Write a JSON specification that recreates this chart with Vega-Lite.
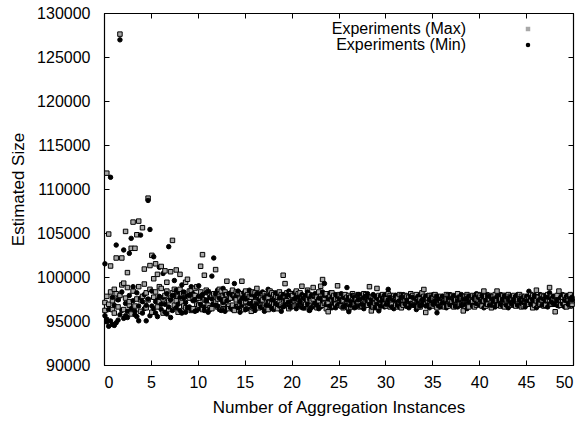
{
  "$schema": "https://vega.github.io/schema/vega-lite/v6.json",
  "width": 469,
  "height": 352,
  "autosize": {"type": "none"},
  "padding": {"left": 104, "top": 13, "right": 9, "bottom": 56},
  "data": {
    "values": [
      {"x":0.1,"a":97100,"c":96200,"b":101500,"d":95600},{"x":0.3,"a":111800,"c":97800,"b":95200,"d":94900},{"x":0.5,"a":104880,"c":96900,"b":94400,"d":96300},{"x":0.7,"a":101250,"c":98300,"b":111330,"d":95000},{"x":0.9,"a":96300,"c":97300,"b":94600,"d":97700},
      {"x":1.1,"a":98600,"c":95900,"b":94500,"d":96800},{"x":1.3,"a":102160,"c":98100,"b":103630,"d":94800},{"x":1.5,"a":97500,"c":96600,"b":95100,"d":97400},{"x":1.7,"a":127600,"c":97900,"b":126950,"d":95700},{"x":1.9,"a":102160,"c":99100,"b":96200,"d":98300},
      {"x":2.1,"a":99300,"c":96300,"b":103070,"d":95300},{"x":2.3,"a":105180,"c":97600,"b":95600,"d":97000},{"x":2.5,"a":100500,"c":98800,"b":95400,"d":96100},{"x":2.7,"a":96800,"c":97200,"b":102690,"d":97900},{"x":2.9,"a":103260,"c":95800,"b":104390,"d":96400},
      {"x":3.1,"a":106240,"c":98400,"b":98900,"d":97300},{"x":3.3,"a":103260,"c":96700,"b":96100,"d":95700},{"x":3.5,"a":104800,"c":97500,"b":95500,"d":98200},{"x":3.7,"a":106350,"c":98900,"b":95020,"d":96700},{"x":3.9,"a":97400,"c":96100,"b":104760,"d":97600},
      {"x":4.1,"a":105600,"c":97800,"b":97200,"d":95900},{"x":4.3,"a":100900,"c":99200,"b":96400,"d":98000},{"x":4.5,"a":98200,"c":96500,"b":95020,"d":96800},{"x":4.7,"a":108960,"c":97400,"b":108700,"d":97500},{"x":4.9,"a":101300,"c":98600,"b":105400,"d":95600},
      {"x":5.1,"a":102460,"c":96000,"b":96700,"d":98400},{"x":5.3,"a":99800,"c":97700,"b":102300,"d":96400},{"x":5.5,"a":101500,"c":98300,"b":95900,"d":97200},{"x":5.7,"a":100300,"c":96600,"b":97400,"d":95500},{"x":5.9,"a":98900,"c":97200,"b":101100,"d":97800},
      {"x":6.1,"a":101200,"c":98700,"b":96300,"d":96900},{"x":6.3,"a":97500,"c":95900,"b":100400,"d":97700},{"x":6.5,"a":100700,"c":97900,"b":96900,"d":96000},{"x":6.7,"a":99400,"c":98400,"b":95800,"d":98100},{"x":6.9,"a":97300,"c":96300,"b":103450,"d":96600},
      {"x":7.1,"a":100600,"c":97600,"b":95400,"d":97400},{"x":7.3,"a":104160,"c":98200,"b":97900,"d":96200},{"x":7.5,"a":98600,"c":96800,"b":99600,"d":97900},{"x":7.7,"a":100800,"c":97300,"b":96500,"d":98500},{"x":7.9,"a":97800,"c":96000,"b":98300,"d":96900},
      {"x":8.1,"a":100300,"c":98600,"b":96200,"d":97700},{"x":8.3,"a":98100,"c":97100,"b":99100,"d":95900},{"x":8.5,"a":96700,"c":98200,"b":97600,"d":98300},{"x":8.7,"a":99400,"c":96500,"b":96000,"d":97100},{"x":8.9,"a":99740,"c":97800,"b":97800,"d":96500},
      {"x":9.1,"a":97600,"c":98400,"b":96600,"d":97900},{"x":9.3,"a":98500,"c":96200,"b":98900,"d":96300},{"x":9.5,"a":96400,"c":97500,"b":97300,"d":98100},{"x":9.7,"a":97900,"c":98700,"b":96100,"d":97400},{"x":9.9,"a":98900,"c":96900,"b":97500,"d":96200},
      {"x":10.1,"a":96800,"c":97600,"b":99000,"d":97800},{"x":10.3,"a":101220,"c":98300,"b":96400,"d":96900},{"x":10.5,"a":102540,"c":96300,"b":97600,"d":98000},{"x":10.7,"a":100200,"c":97400,"b":96200,"d":96600},{"x":10.9,"a":97300,"c":98500,"b":98200,"d":97300},
      {"x":11.1,"a":98300,"c":96800,"b":96000,"d":98300},{"x":11.3,"a":96500,"c":97900,"b":97700,"d":96300},{"x":11.5,"a":97800,"c":96400,"b":100100,"d":97500},{"x":11.7,"a":96900,"c":98100,"b":102160,"d":96900},{"x":11.9,"a":100840,"c":97200,"b":96800,"d":98100},
      {"x":12.1,"a":97500,"c":96600,"b":98500,"d":96700},{"x":12.3,"a":98600,"c":97800,"b":96300,"d":97600},{"x":12.5,"a":96300,"c":98400,"b":97400,"d":96200},{"x":12.7,"a":97900,"c":96900,"b":98700,"d":97100},{"x":12.9,"a":98300,"c":97400,"b":96100,"d":98000},
      {"x":13.1,"a":99520,"c":98000,"b":97300,"d":96500},{"x":13.3,"a":96700,"c":96400,"b":98100,"d":97400},{"x":13.5,"a":97700,"c":97600,"b":96500,"d":98200},{"x":13.7,"a":98500,"c":96800,"b":97900,"d":96300},{"x":13.9,"a":96200,"c":97900,"b":99250,"d":97600},
      {"x":14.1,"a":97400,"c":98300,"b":96700,"d":97900},{"x":14.3,"a":98200,"c":96600,"b":98400,"d":96500},{"x":14.5,"a":96900,"c":97500,"b":96000,"d":97200},{"x":14.7,"a":99520,"c":98100,"b":97500,"d":96800},{"x":14.9,"a":97100,"c":96300,"b":98200,"d":97700},
      {"x":15.1,"a":98400,"c":97200,"b":96300,"d":97500},{"x":15.3,"a":96600,"c":98000,"b":97600,"d":96400},{"x":15.5,"a":97800,"c":96800,"b":98500,"d":97000},{"x":15.7,"a":96100,"c":97700,"b":96900,"d":98000},{"x":15.9,"a":98300,"c":96500,"b":97200,"d":96600},
      {"x":16.1,"a":97200,"c":98200,"b":96200,"d":97800},{"x":16.3,"a":98700,"c":97000,"b":98100,"d":96900},{"x":16.5,"a":96500,"c":97900,"b":97500,"d":98100},{"x":16.7,"a":97600,"c":96700,"b":96600,"d":97300},{"x":16.9,"a":98100,"c":97400,"b":98300,"d":96500},
      {"x":17.1,"a":96800,"c":98100,"b":96100,"d":97600},{"x":17.3,"a":97900,"c":96600,"b":97800,"d":96800},{"x":17.5,"a":96300,"c":97600,"b":98600,"d":97200},{"x":17.7,"a":98400,"c":97100,"b":96800,"d":98000},{"x":17.9,"a":97100,"c":98200,"b":97400,"d":96400},
      {"x":18.1,"a":98000,"c":96900,"b":96300,"d":97500},{"x":18.3,"a":96600,"c":97800,"b":98200,"d":97000},{"x":18.5,"a":97700,"c":96400,"b":96900,"d":98100},{"x":18.7,"a":98300,"c":97300,"b":97600,"d":96700},{"x":18.9,"a":96900,"c":98000,"b":96100,"d":97700},
      {"x":19.1,"a":100200,"c":96700,"b":98000,"d":96600},{"x":19.3,"a":99250,"c":97600,"b":96800,"d":97400},{"x":19.5,"a":97300,"c":98200,"b":97900,"d":96900},{"x":19.7,"a":96400,"c":97100,"b":98400,"d":97100},{"x":19.9,"a":98100,"c":96600,"b":96600,"d":97900},
      {"x":20.1,"a":97500,"c":97900,"b":97300,"d":96700},{"x":20.3,"a":96700,"c":97300,"b":98200,"d":97500},{"x":20.5,"a":98400,"c":96800,"b":96400,"d":97800},{"x":20.7,"a":97000,"c":98100,"b":97700,"d":96800},{"x":20.9,"a":98200,"c":97000,"b":96900,"d":97300},
      {"x":21.1,"a":98950,"c":96600,"b":98000,"d":96600},{"x":21.3,"a":96500,"c":97700,"b":96500,"d":97600},{"x":21.5,"a":97800,"c":96900,"b":97400,"d":97900},{"x":21.7,"a":98500,"c":97400,"b":98300,"d":96900},{"x":21.9,"a":96300,"c":98000,"b":96200,"d":97500},
      {"x":22.1,"a":97300,"c":96700,"b":97900,"d":96500},{"x":22.3,"a":98800,"c":97500,"b":96700,"d":97800},{"x":22.5,"a":96900,"c":98000,"b":98100,"d":97000},{"x":22.7,"a":97700,"c":96500,"b":97100,"d":96800},{"x":22.9,"a":98300,"c":97300,"b":96400,"d":97600},
      {"x":23.1,"a":98950,"c":97800,"b":97600,"d":96600},{"x":23.3,"a":99710,"c":96800,"b":98300,"d":97300},{"x":23.5,"a":97000,"c":97600,"b":99260,"d":97900},{"x":23.7,"a":96400,"c":98100,"b":96900,"d":96900},{"x":23.9,"a":96060,"c":97100,"b":97700,"d":97500},
      {"x":24.1,"a":97900,"c":96600,"b":98200,"d":96700},{"x":24.3,"a":98200,"c":97400,"b":96500,"d":97700},{"x":24.5,"a":96700,"c":97900,"b":97300,"d":97000},{"x":24.7,"a":97500,"c":96900,"b":98000,"d":96500},{"x":24.9,"a":99000,"c":97600,"b":96800,"d":97800},
      {"x":25.1,"a":96800,"c":98000,"b":97500,"d":96900},{"x":25.3,"a":97900,"c":96700,"b":98100,"d":97200},{"x":25.5,"a":96500,"c":97300,"b":96600,"d":97700},{"x":25.7,"a":98000,"c":96900,"b":97600,"d":96800},{"x":25.9,"a":97300,"c":97700,"b":98800,"d":97400},
      {"x":26.1,"a":96400,"c":97900,"b":96060,"d":97700},{"x":26.3,"a":97700,"c":96600,"b":97300,"d":96800},{"x":26.5,"a":98100,"c":97400,"b":97900,"d":97200},{"x":26.7,"a":96900,"c":97800,"b":96500,"d":97700},{"x":26.9,"a":97400,"c":96800,"b":97100,"d":96600},
      {"x":27.1,"a":98000,"c":97200,"b":98000,"d":97400},{"x":27.3,"a":96600,"c":97900,"b":96700,"d":97900},{"x":27.5,"a":97600,"c":96700,"b":97500,"d":96900},{"x":27.7,"a":98100,"c":97500,"b":96400,"d":97600},{"x":27.9,"a":96800,"c":98000,"b":97800,"d":96800},
      {"x":28.1,"a":97300,"c":96800,"b":98100,"d":97300},{"x":28.3,"a":98900,"c":97300,"b":96900,"d":97700},{"x":28.5,"a":96150,"c":97700,"b":97400,"d":96600},{"x":28.7,"a":97800,"c":96600,"b":98000,"d":97100},{"x":28.9,"a":97000,"c":97600,"b":96500,"d":97800},
      {"x":29.1,"a":98700,"c":97200,"b":97600,"d":96900},{"x":29.3,"a":96500,"c":97900,"b":96150,"d":97400},{"x":29.5,"a":97600,"c":96800,"b":97900,"d":96700},{"x":29.7,"a":98000,"c":97400,"b":97200,"d":97600},{"x":29.9,"a":96900,"c":97800,"b":96600,"d":97900},
      {"x":30.1,"a":97500,"c":96700,"b":98000,"d":96900},{"x":30.3,"a":98100,"c":97300,"b":98600,"d":97300},{"x":30.5,"a":96600,"c":97900,"b":96800,"d":97700},{"x":30.7,"a":97300,"c":96900,"b":97500,"d":96600},{"x":30.9,"a":97900,"c":97500,"b":96400,"d":97400},
      {"x":31.1,"a":96800,"c":97700,"b":97900,"d":97800},{"x":31.3,"a":97600,"c":96600,"b":97100,"d":96800},{"x":31.5,"a":98000,"c":97200,"b":96600,"d":97300},{"x":31.7,"a":96500,"c":97900,"b":97700,"d":96900},{"x":31.9,"a":97400,"c":96800,"b":98000,"d":97600},
      {"x":32.1,"a":97900,"c":97400,"b":96900,"d":97700},{"x":32.3,"a":96700,"c":97800,"b":97300,"d":96700},{"x":32.5,"a":97700,"c":96700,"b":96500,"d":97400},{"x":32.7,"a":98100,"c":97300,"b":97800,"d":97000},{"x":32.9,"a":96900,"c":97900,"b":96800,"d":97700},
      {"x":33.1,"a":97300,"c":96800,"b":97600,"d":96800},{"x":33.3,"a":98000,"c":97500,"b":96300,"d":97500},{"x":33.5,"a":96600,"c":97700,"b":97200,"d":97800},{"x":33.7,"a":97500,"c":96600,"b":98000,"d":96700},{"x":33.9,"a":98200,"c":97200,"b":96900,"d":97400},
      {"x":34.1,"a":98580,"c":97800,"b":97500,"d":97000},{"x":34.3,"a":95970,"c":96900,"b":96700,"d":97800},{"x":34.5,"a":97200,"c":97600,"b":97900,"d":96800},{"x":34.7,"a":97900,"c":97300,"b":96500,"d":97400},{"x":34.9,"a":96800,"c":97900,"b":97300,"d":97700},
      {"x":35.1,"a":97600,"c":96700,"b":98000,"d":96900},{"x":35.3,"a":98000,"c":97400,"b":96800,"d":97300},{"x":35.5,"a":96500,"c":97800,"b":95930,"d":97800},{"x":35.7,"a":97300,"c":96800,"b":97400,"d":96700},{"x":35.9,"a":97800,"c":97300,"b":96600,"d":97500},
      {"x":36.1,"a":96900,"c":97700,"b":97800,"d":97000},{"x":36.3,"a":97500,"c":96600,"b":97100,"d":97700},{"x":36.5,"a":98000,"c":97500,"b":96500,"d":96800},{"x":36.7,"a":96700,"c":97900,"b":97600,"d":97400},{"x":36.9,"a":97200,"c":96900,"b":98000,"d":96900},
      {"x":37.1,"a":97900,"c":97200,"b":96800,"d":97600},{"x":37.3,"a":96600,"c":97800,"b":97300,"d":97800},{"x":37.5,"a":97400,"c":96700,"b":97900,"d":96700},{"x":37.7,"a":98100,"c":97400,"b":96600,"d":97300},{"x":37.9,"a":96900,"c":97700,"b":97400,"d":97700},
      {"x":38.1,"a":97600,"c":96800,"b":98000,"d":96800},{"x":38.3,"a":96150,"c":97500,"b":96900,"d":97500},{"x":38.5,"a":97800,"c":97000,"b":97500,"d":96900},{"x":38.7,"a":98000,"c":97800,"b":96400,"d":97600},{"x":38.9,"a":96800,"c":96600,"b":97800,"d":97200},
      {"x":39.1,"a":97300,"c":97600,"b":97200,"d":97800},{"x":39.3,"a":97900,"c":97200,"b":96700,"d":96800},{"x":39.5,"a":96600,"c":97800,"b":97700,"d":97400},{"x":39.7,"a":97500,"c":96800,"b":98100,"d":97000},{"x":39.9,"a":98000,"c":97400,"b":96900,"d":97700},
      {"x":40.1,"a":96900,"c":97900,"b":97400,"d":96800},{"x":40.3,"a":97400,"c":96700,"b":97900,"d":97300},{"x":40.5,"a":98400,"c":97300,"b":96500,"d":97700},{"x":40.7,"a":96700,"c":97800,"b":97300,"d":96900},{"x":40.9,"a":97600,"c":96900,"b":98000,"d":97500},
      {"x":41.1,"a":97900,"c":97500,"b":96800,"d":97800},{"x":41.3,"a":96500,"c":97100,"b":97600,"d":96800},{"x":41.5,"a":97300,"c":97800,"b":97100,"d":97500},{"x":41.7,"a":98000,"c":96800,"b":96600,"d":97200},{"x":41.9,"a":98400,"c":97300,"b":97800,"d":96900},
      {"x":42.1,"a":96800,"c":97700,"b":97300,"d":97700},{"x":42.3,"a":97500,"c":96700,"b":98000,"d":96900},{"x":42.5,"a":97900,"c":97400,"b":96700,"d":97400},{"x":42.7,"a":96600,"c":97900,"b":97500,"d":97800},{"x":42.9,"a":97300,"c":96900,"b":97900,"d":96800},
      {"x":43.1,"a":98000,"c":97500,"b":96500,"d":97500},{"x":43.3,"a":96900,"c":97800,"b":97200,"d":97700},{"x":43.5,"a":97600,"c":96800,"b":97800,"d":96900},{"x":43.7,"a":97900,"c":97300,"b":96900,"d":97300},{"x":43.9,"a":96700,"c":97700,"b":97400,"d":97800},
      {"x":44.1,"a":97400,"c":96900,"b":98000,"d":96800},{"x":44.3,"a":98000,"c":97500,"b":96700,"d":97400},{"x":44.5,"a":96600,"c":97800,"b":97600,"d":97000},{"x":44.7,"a":97300,"c":96700,"b":97100,"d":97700},{"x":44.9,"a":97800,"c":97300,"b":96600,"d":97400},
      {"x":45.1,"a":96900,"c":97700,"b":97800,"d":96900},{"x":45.3,"a":97500,"c":96900,"b":98380,"d":97300},{"x":45.5,"a":98000,"c":97400,"b":96900,"d":97700},{"x":45.7,"a":96500,"c":97900,"b":97400,"d":96900},{"x":45.9,"a":97600,"c":96800,"b":97900,"d":97500},
      {"x":46.1,"a":98500,"c":97300,"b":96500,"d":97800},{"x":46.3,"a":96800,"c":97700,"b":97300,"d":96900},{"x":46.5,"a":97400,"c":96900,"b":98000,"d":97400},{"x":46.7,"a":97900,"c":97400,"b":96800,"d":97600},{"x":46.9,"a":96700,"c":97800,"b":97500,"d":96800},
      {"x":47.1,"a":97300,"c":96800,"b":97900,"d":97300},{"x":47.3,"a":98000,"c":97400,"b":96600,"d":97700},{"x":47.5,"a":98800,"c":97200,"b":98200,"d":96900},{"x":47.7,"a":96900,"c":97800,"b":97200,"d":97500},{"x":47.9,"a":97600,"c":96900,"b":97800,"d":97000},
      {"x":48.1,"a":96050,"c":97500,"b":96900,"d":97700},{"x":48.3,"a":97500,"c":97900,"b":97400,"d":96800},{"x":48.5,"a":98400,"c":96800,"b":96700,"d":97300},{"x":48.7,"a":96800,"c":97400,"b":97700,"d":97600},{"x":48.9,"a":97300,"c":97700,"b":98000,"d":96900},
      {"x":49.1,"a":97900,"c":96900,"b":96600,"d":97400},{"x":49.3,"a":96600,"c":97500,"b":97300,"d":97800},{"x":49.5,"a":97500,"c":97800,"b":97900,"d":96900},{"x":49.7,"a":98000,"c":96700,"b":96800,"d":97400},{"x":49.9,"a":96900,"c":97300,"b":97400,"d":97700}
    ]
  },
  "transform": [{"fold": ["a", "c", "b", "d"], "as": ["series", "value"]}],
  "layer": [
    {
      "mark": {"type": "point", "filled": true, "stroke": "black", "strokeWidth": 1, "opacity": 1},
      "encoding": {
        "x": {
          "field": "x",
          "type": "quantitative",
          "scale": {"domain": [0, 50], "nice": false},
          "axis": {"values": [0, 5, 10, 15, 20, 25, 30, 35, 40, 45, 50], "title": "Number of Aggregation Instances", "labelPadding": 14, "titlePadding": 9}
        },
        "y": {
          "field": "value",
          "type": "quantitative",
          "scale": {"domain": [90000, 130000], "nice": false},
          "axis": {"values": [90000, 95000, 100000, 105000, 110000, 115000, 120000, 125000, 130000], "format": "d", "title": "Estimated Size", "labelPadding": 19, "titlePadding": 9}
        },
        "shape": {
          "field": "series",
          "type": "nominal",
          "scale": {"domain": ["a", "c", "b", "d"], "range": ["square", "square", "circle", "circle"]},
          "legend": {"values": ["a", "b"], "title": null, "orient": "none", "legendX": 416, "legendY": 8, "labelAlign": "right", "labelOffset": -70, "rowPadding": 0, "labelExpr": "datum.label == 'a' ? 'Experiments (Max)' : 'Experiments (Min)'"}
        },
        "fill": {
          "field": "series",
          "type": "nominal",
          "scale": {"domain": ["a", "c", "b", "d"], "range": ["#a8a8a8", "#a8a8a8", "black", "black"]},
          "legend": {"values": ["a", "b"], "title": null, "orient": "none", "legendX": 416, "legendY": 8, "labelAlign": "right", "labelOffset": -70, "rowPadding": 0, "labelExpr": "datum.label == 'a' ? 'Experiments (Max)' : 'Experiments (Min)'"}
        },
        "size": {
          "field": "series",
          "type": "nominal",
          "scale": {"domain": ["a", "c", "b", "d"], "range": [20, 20, 9, 9]},
          "legend": {"values": ["a", "b"], "title": null, "orient": "none", "legendX": 416, "legendY": 8, "labelAlign": "right", "labelOffset": -70, "rowPadding": 0, "labelExpr": "datum.label == 'a' ? 'Experiments (Max)' : 'Experiments (Min)'"}
        }
      }
    },
    {
      "mark": {"type": "point", "opacity": 0},
      "encoding": {
        "x": {"field": "x", "type": "quantitative", "axis": {"orient": "top", "values": [0, 5, 10, 15, 20, 25, 30, 35, 40, 45, 50], "labels": false, "title": null}},
        "y": {"field": "value", "type": "quantitative", "axis": {"orient": "right", "values": [90000, 95000, 100000, 105000, 110000, 115000, 120000, 125000, 130000], "labels": false, "title": null}}
      }
    }
  ],
  "resolve": {"axis": {"x": "independent", "y": "independent"}},
  "config": {
    "font": "Liberation Sans",
    "view": {"stroke": "black", "strokeWidth": 1},
    "axis": {
      "grid": false,
      "labelFont": "Liberation Sans",
      "titleFont": "Liberation Sans",
      "labelFontSize": 16,
      "titleFontSize": 17,
      "titleFontWeight": "normal",
      "labelColor": "black",
      "titleColor": "black",
      "domainColor": "black",
      "tickColor": "black",
      "tickSize": -5,
      "domainWidth": 1.2
    },
    "legend": {
      "labelFont": "Liberation Sans",
      "labelFontSize": 16,
      "labelColor": "black",
      "symbolStrokeColor": "black",
      "symbolStrokeWidth": 1
    }
  }
}
